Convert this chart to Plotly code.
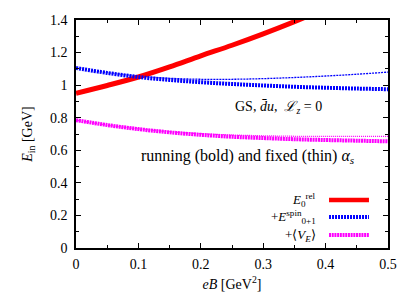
import plotly.graph_objects as go

eB = [0.0, 0.05, 0.1, 0.15, 0.2, 0.25, 0.3, 0.35, 0.4, 0.45, 0.5]
E0_rel = [0.95, 0.998, 1.05, 1.112, 1.18, 1.245, 1.315, 1.39, 1.47, 1.555, 1.645]
E_spin_running = [1.105, 1.075, 1.05, 1.032, 1.018, 1.007, 0.998, 0.99, 0.984, 0.979, 0.975]
E_spin_fixed = [1.105, 1.077, 1.055, 1.042, 1.036, 1.036, 1.04, 1.047, 1.056, 1.067, 1.08]
E_VE_running = [0.785, 0.755, 0.73, 0.71, 0.695, 0.683, 0.675, 0.668, 0.663, 0.659, 0.655]
E_VE_fixed = [0.785, 0.755, 0.732, 0.714, 0.702, 0.694, 0.689, 0.686, 0.685, 0.685, 0.686]

legend_labels = ["<i>E</i><sub>0</sub><sup>rel</sup>",
                 "+<i>E</i><sup>spin</sup><sub>0+1</sub>",
                 "+⟨<i>V<sub>E</sub></i>⟩"]

FONT = "Liberation Serif"
fig = go.Figure()

fig.add_trace(go.Scatter(x=eB, y=E_spin_fixed, mode="lines", line=dict(color="#0000ff", width=1.3, dash="2px,1px", shape="spline"), showlegend=False))
fig.add_trace(go.Scatter(x=eB, y=E_VE_fixed, mode="lines", line=dict(color="#ff00ff", width=1.3, dash="1px,1px", shape="spline"), showlegend=False))
fig.add_trace(go.Scatter(x=eB, y=E0_rel, mode="lines", line=dict(color="#ff0000", width=5, shape="spline"), showlegend=False))
fig.add_trace(go.Scatter(x=eB, y=E_spin_running, mode="lines", line=dict(color="#0000ff", width=4, dash="2px,1px", shape="spline"), showlegend=False))
fig.add_trace(go.Scatter(x=eB, y=E_VE_running, mode="lines", line=dict(color="#ff00ff", width=4, dash="2px,0.7px", shape="spline"), showlegend=False))

# manual legend (text left of sample)
colors = ["#ff0000", "#0000ff", "#ff00ff"]
dashes = ["solid", "2px,1px", "2px,0.7px"]
leg_y = [0.21, 0.136, 0.057]
for lab, c, d, yy in zip(legend_labels, colors, dashes, leg_y):
    fig.add_annotation(x=0.776, y=yy, xref="paper", yref="paper", text=lab, showarrow=False,
                       xanchor="right", yanchor="middle", font=dict(family=FONT, size=13, color="black"))
    fig.add_shape(type="line", xref="paper", yref="paper", x0=0.811, x1=0.939, y0=yy, y1=yy,
                  line=dict(color=c, width=4 if c != "#ff0000" else 4.5, dash=d))

fig.add_annotation(x=0.325, y=0.86, text="GS, <i>d̄u</i>,  <i>ℒ<sub>z</sub></i> = 0", showarrow=False,
                   font=dict(family=FONT, size=14, color="black"), xanchor="center", yanchor="middle")
fig.add_annotation(x=0.275, y=0.56, text="running (bold) and fixed (thin) <i>α<sub>s</sub></i>", showarrow=False,
                   font=dict(family=FONT, size=16, color="black"), xanchor="center", yanchor="middle")

axis_common = dict(showline=True, linecolor="black", linewidth=1.5, mirror="allticks", ticks="inside",
                   ticklen=5, tickcolor="black", tickwidth=1, showgrid=False, zeroline=False,
                   automargin=False,
                   tickfont=dict(family=FONT, size=14, color="black"))
fig.update_xaxes(range=[0, 0.5], tickvals=[0, 0.1, 0.2, 0.3, 0.4, 0.5],
                 ticktext=["0", "0.1", "0.2", "0.3", "0.4", "0.5"],
                 ticklabelstandoff=2,
                 minor=dict(dtick=0.05, tick0=0, ticks="inside", ticklen=3, tickcolor="black"),
                 title=dict(text="<i>eB</i> [GeV<sup>2</sup>]", font=dict(family=FONT, size=14, color="black"), standoff=9),
                 **axis_common)
fig.update_yaxes(range=[0, 1.4], tickvals=[0, 0.2, 0.4, 0.6, 0.8, 1.0, 1.2, 1.4],
                 ticktext=["0", "0.2", "0.4", "0.6", "0.8", "1", "1.2", "1.4"],
                 ticklabelstandoff=4,
                 minor=dict(dtick=0.1, tick0=0, ticks="inside", ticklen=3, tickcolor="black"),
                 title=dict(text="<i>E</i><sub>in</sub> [GeV]", font=dict(family=FONT, size=14, color="black"), standoff=14),
                 **axis_common)

fig.update_layout(width=402, height=284, margin=dict(l=68, r=22, t=12, b=44, autoexpand=False),
                  paper_bgcolor="white", plot_bgcolor="white", showlegend=False)
fig.write_html("out.html")
